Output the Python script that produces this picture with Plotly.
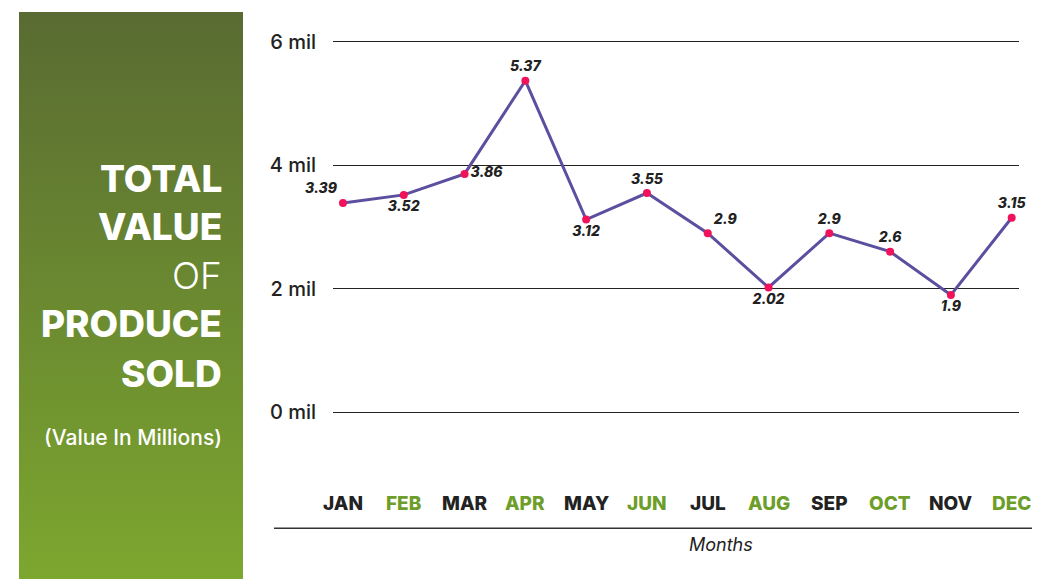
import plotly.graph_objects as go

months = ["JAN", "FEB", "MAR", "APR", "MAY", "JUN", "JUL", "AUG", "SEP", "OCT", "NOV", "DEC"]
values = [3.39, 3.52, 3.86, 5.37, 3.12, 3.55, 2.9, 2.02, 2.9, 2.6, 1.9, 3.15]
value_labels = ["3.39", "3.52", "3.86", "5.37", "3.12", "3.55", "2.9", "2.02", "2.9", "2.6", "1.9", "3.15"]
label_pos = ["top left", "bottom center", "middle right", "top center", "bottom center", "top center",
             "top right", "bottom center", "top center", "top center", "bottom center", "top center"]
y_ticks = [0, 2, 4, 6]
y_ticklabels = ["0 mil", "2 mil", "4 mil", "6 mil"]

# page body adds an 8px offset; figure is sized so that it fills the window
OFF = 8
W, H = 1040 - OFF, 579 - OFF
FONT = "Inter"
DARK = "#222222"
GREEN = "#6e9e2a"

def px(x):
    return (x - OFF) / W

def py(y):
    return (H - (y - OFF)) / H

fig = go.Figure()

# left gradient panel
fig.add_trace(go.Scatter(
    x=[0, 1, 1, 0, 0], y=[0, 0, 1, 1, 0], mode="lines", fill="toself",
    line=dict(width=0), hoverinfo="skip", showlegend=False,
    fillgradient=dict(type="vertical", colorscale=[[0, "#7ca72f"], [1, "#596b32"]]),
    xaxis="x2", yaxis="y2"))

fig.add_trace(go.Scatter(
    x=months, y=values, mode="lines+markers+text",
    line=dict(color="#5b4f9f", width=3),
    marker=dict(color="#f0125a", size=8),
    text=value_labels, textposition=label_pos,
    textfont=dict(family=FONT, size=14, color=DARK, weight=800, style="italic"),
    showlegend=False, cliponaxis=False))

fig.update_layout(
    width=W, height=H,
    margin=dict(l=0, r=0, t=0, b=0),
    paper_bgcolor="white", plot_bgcolor="white",
    xaxis=dict(domain=[px(333), px(1019)], type="category", range=[-0.164, 11.12],
               showgrid=False, showticklabels=False, zeroline=False, showline=False),
    yaxis=dict(domain=[py(470), py(30)], range=[-0.949, 6.129],
               tickvals=y_ticks, ticktext=y_ticklabels,
               showgrid=True, gridcolor="#222222", gridwidth=1.3, zeroline=False,
               tickfont=dict(family=FONT, size=20, color=DARK, weight=500),
               ticklabelstandoff=16, showline=False),
    xaxis2=dict(domain=[px(19), px(243)], range=[0, 1], visible=False, fixedrange=True),
    yaxis2=dict(domain=[0, py(8)], range=[0, 1], visible=False, fixedrange=True),
)

annotations = []
# month labels
for i, m in enumerate(months):
    annotations.append(dict(x=m, xref="x", y=py(503), yref="paper", text=m, showarrow=False,
                            font=dict(family=FONT, size=19, weight=800,
                                      color=DARK if i % 2 == 0 else GREEN),
                            xanchor="center", yanchor="middle"))

annotations.append(dict(x=px(721), y=py(544), xref="paper", yref="paper", text="Months",
                        showarrow=False, font=dict(family=FONT, size=18, color=DARK, style="italic"),
                        xanchor="center", yanchor="middle"))

title_lines = [("TOTAL", 176, 800), ("VALUE", 224, 800), ("OF", 273, 300),
               ("PRODUCE", 322, 800), ("SOLD", 372, 800)]
for txt, yy, wt in title_lines:
    annotations.append(dict(x=px(224), y=py(yy), xref="paper", yref="paper", text=txt,
                            showarrow=False, font=dict(family=FONT, size=37, color="white", weight=wt),
                            xanchor="right", yanchor="middle"))
annotations.append(dict(x=px(224), y=py(437), xref="paper", yref="paper", text="(Value In Millions)",
                        showarrow=False, font=dict(family=FONT, size=21, color="white", weight=500),
                        xanchor="right", yanchor="middle"))

fig.update_layout(annotations=annotations,
                  shapes=[dict(type="line", xref="paper", yref="paper",
                               x0=px(274), x1=px(1033), y0=py(528), y1=py(528),
                               line=dict(color="#333333", width=1.5))])

fig.write_html("out.html")
